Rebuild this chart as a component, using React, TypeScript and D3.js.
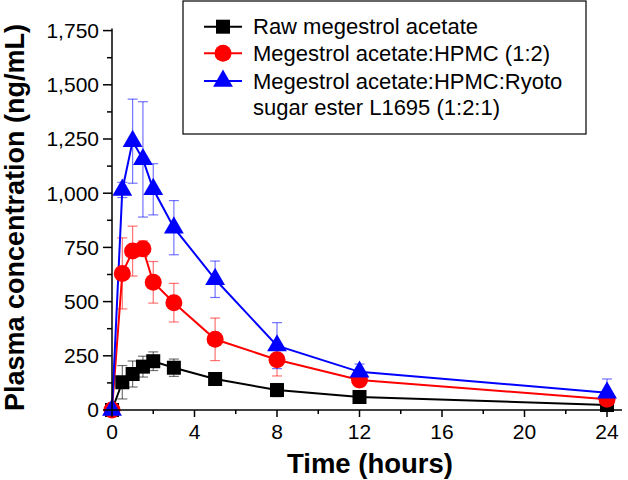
import React from "react";
import * as d3 from "d3";

const times = [0, 0.5, 1, 1.5, 2, 3, 5, 8, 12, 24];
const rawMean = [0, 128, 166, 200, 225, 195, 143, 92, 60, 23];
const rawSD = [0, 77, 60, 48, 43, 40, 12, 30, 22, 10];
const hpmcMean = [0, 630, 733, 744, 589, 495, 326, 232, 138, 50];
const hpmcSD = [0, 164, 115, 36, 96, 89, 98, 75, 30, 15];
const ryotoMean = [0, 1015, 1240, 1156, 1018, 841, 603, 297, 176, 80];
const ryotoSD = [0, 35, 194, 266, 118, 125, 84, 106, 36, 63];
const seriesNames = [
  "Raw megestrol acetate",
  "Megestrol acetate:HPMC (1:2)",
  "Megestrol acetate:HPMC:Ryoto",
];
const seriesNameLine2 = "sugar ester L1695 (1:2:1)";
const xTicks = [0, 4, 8, 12, 16, 20, 24];
const yTicks = [0, 250, 500, 750, 1000, 1250, 1500, 1750];

const W = 628;
const H = 480;
const FONT = "'Liberation Sans', Arial, Helvetica, sans-serif";

const x = d3.scaleLinear().domain([0, 24]).range([112, 607]);
const y = d3.scaleLinear().domain([0, 1750]).range([410, 30.6]);

type Series = { mean: number[]; sd: number[]; color: string; shape: string };
const series: Series[] = [
  { mean: rawMean, sd: rawSD, color: "#000000", shape: "square" },
  { mean: hpmcMean, sd: hpmcSD, color: "#ff0000", shape: "circle" },
  { mean: ryotoMean, sd: ryotoSD, color: "#0000ff", shape: "triangle" },
];

function Marker({ shape, cx, cy, color }: { shape: string; cx: number; cy: number; color: string }) {
  if (shape === "square") {
    const s = 14;
    return <rect x={cx - s / 2} y={cy - s / 2} width={s} height={s} fill={color} />;
  }
  if (shape === "circle") {
    return <circle cx={cx} cy={cy} r={8.5} fill={color} />;
  }
  const sym = d3.symbol().type(d3.symbolTriangle).size(170)();
  return <path d={sym || ""} transform={`translate(${cx},${cy})`} fill={color} />;
}

export default function App() {
  const line = d3
    .line<number>()
    .x((_, i) => x(times[i]))
    .y((d) => y(d));
  const xMinor = d3.range(0, 25, 2);
  const yMinor = d3.range(0, 1751, 125);
  const legendRows = [26.7, 53.3, 81];
  return (
    <svg
      width={W}
      height={H}
      style={{ position: "absolute", left: 0, top: 0, background: "#fff" }}
      fontFamily={FONT}
    >
      <rect width={W} height={H} fill="#fff" />
      {/* error bars */}
      {series.map((s, si) => (
        <g key={"e" + si} stroke={s.color} strokeOpacity={0.55} strokeWidth={1.2}>
          {s.mean.map((m, i) => {
            if (s.sd[i] <= 0) return null;
            const cx = x(times[i]);
            const y1 = y(m + s.sd[i]);
            const y2 = y(Math.max(0, m - s.sd[i]));
            return (
              <g key={i}>
                <line x1={cx} x2={cx} y1={y1} y2={y2} />
                <line x1={cx - 5} x2={cx + 5} y1={y1} y2={y1} />
                <line x1={cx - 5} x2={cx + 5} y1={y2} y2={y2} />
              </g>
            );
          })}
        </g>
      ))}
      {/* lines */}
      {series.map((s, si) => (
        <path key={"l" + si} d={line(s.mean) || ""} fill="none" stroke={s.color} strokeWidth={2} />
      ))}
      {/* markers */}
      {series.map((s, si) => (
        <g key={"m" + si}>
          {s.mean.map((m, i) => (
            <Marker key={i} shape={s.shape} cx={x(times[i])} cy={y(m)} color={s.color} />
          ))}
        </g>
      ))}
      {/* axes */}
      <g stroke="#000" strokeWidth={1.5}>
        <line x1={112} x2={112} y1={y(1750) - 2} y2={411} />
        <line x1={111} x2={622} y1={410} y2={410} />
        {yMinor.map((v) => (
          <line key={"ym" + v} x1={v % 250 === 0 ? 103 : 107} x2={112} y1={y(v)} y2={y(v)} />
        ))}
        {xMinor.map((v) => (
          <line key={"xm" + v} x1={x(v)} x2={x(v)} y1={410} y2={v % 4 === 0 ? 417 : 414} />
        ))}
      </g>
      <g fontSize={21} fill="#000">
        {yTicks.map((v) => (
          <text key={"yt" + v} x={99} y={y(v)} dy="0.35em" textAnchor="end">
            {d3.format(",")(v)}
          </text>
        ))}
        {xTicks.map((v) => (
          <text key={"xt" + v} x={x(v)} y={439} textAnchor="middle">
            {v}
          </text>
        ))}
      </g>
      <text x={370} y={473} textAnchor="middle" fontSize={27.5} fontWeight="bold">
        Time (hours)
      </text>
      <text
        transform={`translate(24,217.5) rotate(-90)`}
        textAnchor="middle"
        fontSize={27}
        fontWeight="bold"
      >
        Plasma concentration (ng/mL)
      </text>
      {/* legend */}
      <rect x={183} y={1} width={403} height={133} fill="#fff" stroke="#000" strokeWidth={1.2} />
      {series.map((s, si) => (
        <g key={"lg" + si}>
          <line x1={204} x2={242} y1={legendRows[si]} y2={legendRows[si]} stroke={s.color} strokeWidth={2} />
          <Marker shape={s.shape} cx={223} cy={legendRows[si]} color={s.color} />
          <text x={253} y={legendRows[si]} dy="0.35em" fontSize={22}>
            {seriesNames[si]}
          </text>
        </g>
      ))}
      <text x={253} y={107.7} dy="0.35em" fontSize={22}>
        {seriesNameLine2}
      </text>
    </svg>
  );
}
